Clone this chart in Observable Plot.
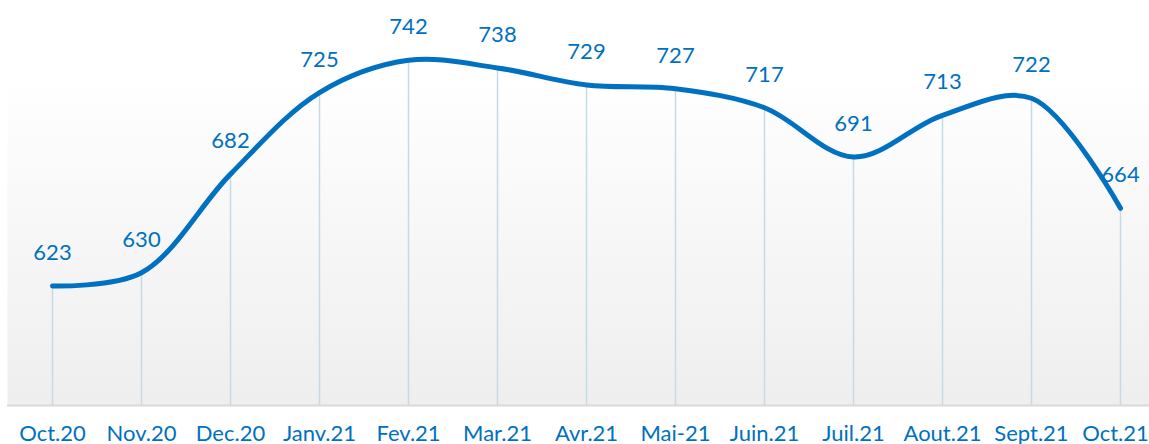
<!DOCTYPE html>
<html>
<head>
<meta charset="utf-8">
<script src="https://cdn.jsdelivr.net/npm/d3@7"></script>
<script src="https://cdn.jsdelivr.net/npm/@observablehq/plot@0.6"></script>
<style>
  html, body { margin: 0; padding: 0; background: #fff; }
  #chart svg { display: block; }
</style>
</head>
<body>
<div id="chart"></div>
<script>
const months = ["Oct.20","Nov.20","Dec.20","Janv.21","Fev.21","Mar.21","Avr.21","Mai-21","Juin.21","Juil.21","Aout.21","Sept.21","Oct.21"];
const values = [623, 630, 682, 725, 742, 738, 729, 727, 717, 691, 713, 722, 664];

const data = months.map((m, i) => ({month: m, value: values[i]}));
const blue = "#0070c0";

const gradientDefs = () => {
  const svgNS = "http://www.w3.org/2000/svg";
  const g = document.createElementNS(svgNS, "defs");
  g.innerHTML = `<linearGradient id="bgGrad" x1="0" y1="0" x2="0" y2="1">
      <stop offset="0%" stop-color="#ffffff"/>
      <stop offset="100%" stop-color="#eeeeee"/>
    </linearGradient>`;
  return g;
};

const axisStyle = {tickSize: 0, tickPadding: 20, fontSize: 22, fill: blue, label: null};

const chart = Plot.plot({
  width: 1149,
  height: 444,
  marginLeft: 7,
  marginRight: 0,
  marginTop: 75,
  marginBottom: 39,
  style: {fontFamily: "Lato, sans-serif", background: "#fff", overflow: "visible"},
  x: {type: "point", domain: months, range: [52, 1120], padding: 0, round: false, label: null},
  y: {domain: [560, 734], axis: null},
  marks: [
    gradientDefs,
    Plot.frame({fill: "url(#bgGrad)", stroke: null}),
    Plot.ruleY([560], {stroke: "#d9d9d9", strokeWidth: 2}),
    Plot.ruleX(data, {x: "month", y1: 560, y2: "value", stroke: "#c5dae3", strokeWidth: 1.5}),
    Plot.line(data, {x: "month", y: "value", stroke: blue, strokeWidth: 5, curve: "catmull-rom", strokeLinecap: "round"}),
    Plot.text(data, {x: "month", y: "value", text: d => String(d.value), dy: -33, fill: blue, fontSize: 22, fontFamily: "Lato, sans-serif"}),
    Plot.axisX({...axisStyle, ticks: months.slice(0, -1)}),
    Plot.axisX({...axisStyle, ticks: months.slice(-1), dx: -5})
  ]
});
document.getElementById("chart").appendChild(chart);
</script>
</body>
</html>
